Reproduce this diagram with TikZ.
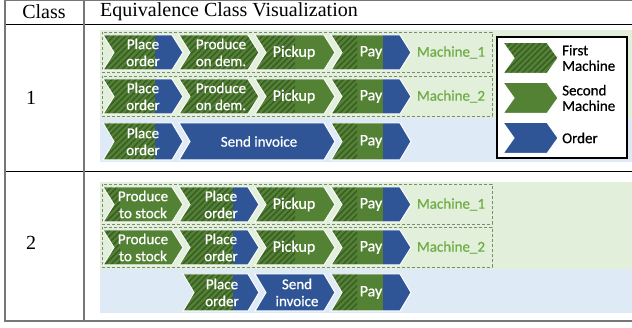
\documentclass[tikz,border=0pt]{standalone}
\usepackage{fontspec}
\setmainfont{Liberation Serif}
\newfontfamily\calfont[FakeBold=0.6]{Carlito}
\usetikzlibrary{patterns.meta}
\definecolor{cgreen}{HTML}{548235}
\definecolor{chatch}{HTML}{3A5E25}
\definecolor{cblue}{HTML}{2F5597}
\definecolor{bggreen}{HTML}{E2EFDA}
\definecolor{bgblue}{HTML}{DEEBF7}
\definecolor{mgreen}{HTML}{70AD47}
\definecolor{dashc}{HTML}{7A8C6E}
\definecolor{rulegray}{HTML}{777777}
\def\hh{17.5}
\newcommand\chevpath[3]{(#1,#3-\hh) -- (#2-11,#3-\hh) -- (#2,#3) -- (#2-11,#3+\hh) -- (#1,#3+\hh) -- (#1+11,#3) -- cycle}
\newcommand\chev[5]{%
  \begin{scope}
    \clip \chevpath{#1}{#2}{#3};
    \fill[cblue] (#1,#3-20) rectangle (#2,#3+20);
    \fill[cgreen] (#1,#3-20) rectangle (#5,#3+20);
    \fill[cgreen] (#1,#3-20) rectangle (#4,#3+20);
    \fill[pattern={Lines[angle=45,distance=4.2pt,line width=1.6pt]},pattern color=chatch] (#1,#3-20) rectangle (#4,#3+20);
  \end{scope}
  \draw[white,line width=1pt] \chevpath{#1}{#2}{#3};
}
\tikzset{
  ctext/.style={text=white, font=\calfont\fontsize{15}{17}\selectfont, align=center, inner sep=0pt},
  btext/.style={text=white, font=\calfont\fontsize{16}{17}\selectfont, align=center, inner sep=0pt},
  mtext/.style={text=mgreen, font=\calfont\fontsize{15}{16}\selectfont, inner sep=0pt},
  ltext/.style={text=black, font=\calfont\fontsize{15}{15.5}\selectfont, align=left, anchor=west, inner sep=0pt},
  dashbox/.style={draw=dashc, dash pattern=on 3pt off 2pt, line width=1pt},
  hdr/.style={font=\fontsize{20}{22}\selectfont, inner sep=0pt},
  grayrule/.style={draw=rulegray, line width=1.2pt},
  blackrule/.style={draw=black, line width=0.8pt},
}
\begin{document}
\begin{tikzpicture}[x=1pt,y=-1pt]
\useasboundingbox (0,0) rectangle (632,328);
% backgrounds
\fill[bggreen] (100,30) rectangle (632,118);
\fill[bgblue] (100,118) rectangle (632,162);
\fill[bggreen] (100,182) rectangle (632,269);
\fill[bgblue] (100,269) rectangle (632,313);
% dashed machine boxes
\draw[dashbox] (102,32.5) rectangle (492,72.5);
\draw[dashbox] (102,76.5) rectangle (492,116.5);
\draw[dashbox] (102,184.5) rectangle (492,224.5);
\draw[dashbox] (102,227.5) rectangle (492,267.5);
% class 1
\chev{103}{183}{52.5}{155}{155}
\chev{179}{259}{52.5}{259}{259}
\chev{255}{335}{52.5}{295}{335}
\chev{331}{411}{52.5}{357}{383}
\chev{103}{183}{96.5}{155}{155}
\chev{179}{259}{96.5}{259}{259}
\chev{255}{335}{96.5}{295}{335}
\chev{331}{411}{96.5}{357}{383}
{\def\hh{18.5}
\chev{103}{183}{141.5}{155}{155}
\chev{179}{335}{141.5}{179}{179}
\chev{331}{411}{141.5}{357}{383}}
% class 2
\chev{103}{183}{204.5}{120}{183}
\chev{179}{259}{204.5}{233}{233}
\chev{255}{335}{204.5}{295}{335}
\chev{331}{411}{204.5}{357}{383}
\chev{103}{183}{247.5}{120}{183}
\chev{179}{259}{247.5}{233}{233}
\chev{255}{335}{247.5}{295}{335}
\chev{331}{411}{247.5}{357}{383}
{\def\hh{18.5}
\chev{183}{259}{292.5}{233}{233}
\chev{255}{335}{292.5}{255}{255}
\chev{331}{411}{292.5}{357}{383}}
% texts class 1
\node[ctext] (a1) at (143,52.5) {Place\\order};
\node[ctext] (a2) at (221,52.5) {Produce\\on dem.};
\node[btext] (a3) at (294,52.5) {Pickup};
\node[btext] (a4) at (371,52.5) {Pay};
\node[mtext] (a5) at (451,52.5) {Machine\_1};
\node[ctext] (b1) at (143,96.5) {Place\\order};
\node[ctext] (b2) at (221,96.5) {Produce\\on dem.};
\node[btext] (b3) at (294,96.5) {Pickup};
\node[btext] (b4) at (371,96.5) {Pay};
\node[mtext] (b5) at (451,96.5) {Machine\_2};
\node[ctext] (c1) at (143,141.5) {Place\\order};
\node[ctext] (c2) at (259,141.5) {Send invoice};
\node[btext] (c3) at (371,141.5) {Pay};
% texts class 2
\node[ctext] (d1) at (143,204.5) {Produce\\to stock};
\node[ctext] (d2) at (221,204.5) {Place\\order};
\node[btext] (d3) at (294,204.5) {Pickup};
\node[btext] (d4) at (371,204.5) {Pay};
\node[mtext] (d5) at (451,204.5) {Machine\_1};
\node[ctext] (e1) at (143,247.5) {Produce\\to stock};
\node[ctext] (e2) at (221,247.5) {Place\\order};
\node[btext] (e3) at (294,247.5) {Pickup};
\node[btext] (e4) at (371,247.5) {Pay};
\node[mtext] (e5) at (451,247.5) {Machine\_2};
\node[ctext] (f1) at (222,292.5) {Place\\order};
\node[ctext] (f2) at (297,292.5) {Send\\invoice};
\node[btext] (f3) at (371,292.5) {Pay};
% legend
\draw[line width=2.5pt, fill=white] (497,37) rectangle (627,158);
{\def\hh{15.5}
\chev{503}{558}{58}{558}{558}
\chev{503}{558}{98}{503}{558}
\chev{503}{558}{138}{503}{503}}
\node[ltext] (l1) at (562,58) {First\\Machine};
\node[ltext] (l2) at (562,98) {Second\\Machine};
\node[ltext] (l3) at (562,138) {Order};
% table
\draw[grayrule] (5,0.8) -- (632,0.8);
\draw[blackrule] (5,24.5) -- (632,24.5);
\draw[blackrule] (5,171.5) -- (632,171.5);
\draw[draw=rulegray, line width=2pt] (4.4,321) -- (632,321);
\draw[grayrule] (5,0.2) -- (5,322);
\draw[grayrule] (84,0.2) -- (84,322);
\node[hdr] (h1) at (44,11.5) {Class};
\node[hdr, anchor=west] (h2) at (100,11.5) {Equivalence Class Visualization};
\node[hdr] (n1) at (31,98) {1};
\node[hdr] (n2) at (31,243) {2};
\end{tikzpicture}
\end{document}
